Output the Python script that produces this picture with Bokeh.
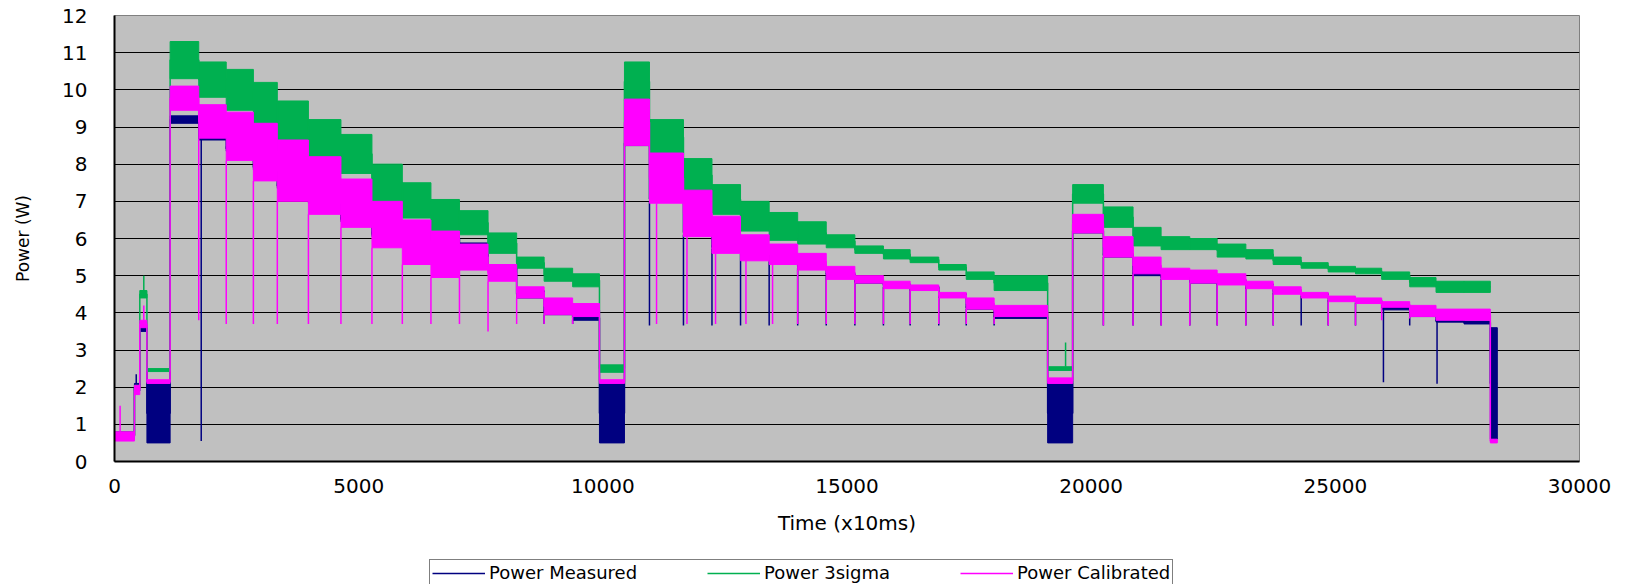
import math
from bokeh.plotting import figure
from bokeh.layouts import column
from bokeh.models import Range1d, FixedTicker, Legend, LegendItem, ColumnDataSource
from bokeh.embed import file_html
from bokeh.resources import INLINE

# ---- data (time in x10ms, power in W) ----
# step boundaries shared by the three series
times = [0, 408, 518, 664, 1139, 1725, 2288, 2844, 3334, 3971, 4637, 5272, 5894,
         6480, 7064, 7649, 8235, 8798, 9382, 9931, 10443, 10955, 11651, 12235,
         12820, 13406, 13990, 14575, 15161, 15746, 16293, 16879, 17442, 18013,
         19109, 19621, 20250, 20858, 21432, 22020, 22580, 23168, 23727, 24301,
         24854, 25413, 25949, 26523, 27062, 27635, 28174, 28317]

# Power Measured: min / max of the trace within each step
measured_lo = [0.6, 1.9, 3.5, 0.5, 9.1, 8.65, 8.35, 7.85, 7.35, 6.95, 6.45, 6.05, 6.25,
               5.95, 5.75, 5.15, 4.4, 3.95, 3.8, 0.5, 8.5, 7.0, 6.1, 5.72, 5.58,
               5.38, 5.2, 5.0, 4.8, 4.7, 4.64, 4.44, 4.1, 3.85, 0.5, 6.15, 5.5,
               5.0, 4.92, 4.8, 4.82, 4.7, 4.55, 4.45, 4.35, 4.28, 4.08, 3.9, 3.75,
               3.7, 0.6]
measured_hi = [0.8, 2.1, 3.7, 2.1, 9.3, 8.78, 8.48, 7.98, 7.48, 7.08, 6.58, 6.18, 6.38,
               6.08, 5.88, 5.28, 4.6, 4.08, 3.93, 2.1, 8.62, 7.12, 6.22, 5.82, 5.68,
               5.48, 5.3, 5.08, 4.88, 4.78, 4.72, 4.52, 4.18, 3.93, 2.1, 6.27, 5.6,
               5.08, 5.0, 4.88, 4.9, 4.78, 4.62, 4.52, 4.42, 4.35, 4.15, 3.98, 3.83,
               3.78, 3.6]
# Power 3sigma
sigma_lo = [0.6, 1.9, 4.4, 2.42, 10.3, 9.8, 9.45, 9.1, 8.35, 8.1, 7.75, 7.0, 6.55,
            6.2, 6.1, 5.6, 5.2, 4.85, 4.7, 2.4, 9.7, 8.25, 7.25, 6.65, 6.2, 5.95,
            5.85, 5.75, 5.6, 5.45, 5.35, 5.15, 4.9, 4.6, 2.45, 6.95, 6.3, 5.8, 5.7,
            5.7, 5.5, 5.45, 5.3, 5.2, 5.1, 5.05, 4.9, 4.7, 4.55, 4.55, float("nan")]
sigma_hi = [0.8, 2.05, 4.6, 2.5, 11.3, 10.75, 10.55, 10.2, 9.7, 9.2, 8.8, 8.0, 7.5,
            7.05, 6.75, 6.15, 5.5, 5.2, 5.05, 2.6, 10.75, 9.2, 8.15, 7.45, 7.0, 6.7,
            6.45, 6.1, 5.8, 5.7, 5.5, 5.3, 5.1, 5.0, 2.55, 7.45, 6.85, 6.3, 6.05,
            6.0, 5.85, 5.7, 5.5, 5.35, 5.25, 5.2, 5.1, 4.95, 4.85, 4.85, float("nan")]
# Power Calibrated
calib_lo = [0.55, 1.8, 3.6, 2.1, 9.45, 8.7, 8.1, 7.55, 7.0, 6.65, 6.3, 5.75, 5.3,
            4.95, 5.15, 4.85, 4.4, 3.95, 3.9, 2.1, 8.5, 6.95, 6.05, 5.6, 5.4, 5.3,
            5.15, 4.9, 4.8, 4.65, 4.6, 4.4, 4.1, 3.9, 2.1, 6.15, 5.5, 5.05, 4.9,
            4.8, 4.75, 4.65, 4.5, 4.4, 4.3, 4.25, 4.15, 3.9, 3.8, 3.8, 0.5]
calib_hi = [0.8, 2.05, 3.8, 2.2, 10.1, 9.6, 9.4, 9.1, 8.65, 8.2, 7.6, 7.0, 6.5,
            6.2, 5.85, 5.3, 4.7, 4.4, 4.25, 2.2, 9.75, 8.3, 7.3, 6.6, 6.1, 5.85,
            5.6, 5.25, 5.0, 4.85, 4.75, 4.55, 4.4, 4.2, 2.25, 6.65, 6.05, 5.5, 5.2,
            5.15, 5.05, 4.85, 4.7, 4.55, 4.45, 4.4, 4.3, 4.2, 4.1, 4.1, 0.6]

# single-sample spikes and dips
measured_spike_t = [445, 1776, 8798, 9382, 10955, 11651, 12235, 12820, 13406, 13990,
                    14575, 15161, 15746, 16293, 16879, 17442, 18013, 20250, 20858,
                    21432, 22020, 22580, 23168, 23727, 24301, 24854, 25413, 25985,
                    26523, 27083]
measured_spike_v = [2.35, 0.55, 3.7, 3.7, 3.66, 3.66, 3.66, 3.66, 3.66, 3.66, 3.66,
                    3.66, 3.66, 3.66, 3.66, 3.66, 3.66, 3.66, 3.66, 3.66, 3.66,
                    3.66, 3.66, 3.66, 3.66, 3.66, 3.66, 2.13, 3.66, 2.09]
sigma_spike_t = [600, 19476]
sigma_spike_v = [5.0, 3.2]
calib_spike_t = [115, 600, 1725, 2288, 2844, 3334, 3971, 4637, 5272, 5894, 6480,
                 7064, 7649, 8235, 8798, 9382, 11100, 11723, 12308, 12931, 13476,
                 13990, 14575, 15161, 15746, 16293, 16879, 17442, 18013, 20250,
                 20858, 21432, 22020, 22580, 23168, 23727, 24854, 25413, 25949,
                 26523, 28230]
calib_spike_v = [1.5, 4.2, 3.8, 3.7, 3.7, 3.7, 3.7, 3.7, 3.7, 3.7, 3.7, 3.7, 3.5,
                 3.7, 3.7, 3.7, 3.7, 3.7, 3.7, 3.7, 3.7, 3.7, 3.7, 3.7, 3.7, 3.7,
                 3.7, 3.7, 3.7, 3.66, 3.66, 3.66, 3.66, 3.66, 3.66, 3.66, 3.66,
                 3.66, 3.8, 3.85, 0.5]

series_names = ["Power Measured", "Power 3sigma", "Power Calibrated"]
series_colors = ["#000080", "#00B050", "#FF00FF"]

x_ticks = [0, 5000, 10000, 15000, 20000, 25000, 30000]
y_ticks = list(range(0, 13))


def band_source(lo, hi):
    d = dict(left=[], right=[], bottom=[], top=[])
    for i in range(len(lo)):
        if math.isnan(lo[i]):
            continue
        d["left"].append(times[i])
        d["right"].append(times[i + 1])
        d["bottom"].append(lo[i])
        d["top"].append(hi[i])
    return ColumnDataSource(d)


def path_source(lo, hi):
    xs, ys = [], []
    for i in range(len(lo)):
        if math.isnan(lo[i]):
            xs.append(float("nan"))
            ys.append(float("nan"))
            continue
        mid = (lo[i] + hi[i]) / 2.0
        xs += [times[i], times[i + 1]]
        ys += [mid, mid]
    return ColumnDataSource(dict(x=xs, y=ys))


def spike_source(st, sv, lo, hi):
    d = dict(x0=[], y0=[], x1=[], y1=[])
    for t, v in zip(st, sv):
        i = max(k for k in range(len(lo)) if times[k] <= t)
        base = lo[i] if v < lo[i] else hi[i]
        d["x0"].append(t)
        d["x1"].append(t)
        d["y0"].append(base)
        d["y1"].append(v)
    return ColumnDataSource(d)


FONT = "DejaVu Sans"

p = figure(width=1629, height=559,
           x_range=Range1d(0, 30000), y_range=Range1d(0, 12),
           output_backend="svg", toolbar_location=None,
           min_border_left=114, min_border_right=50,
           min_border_top=15, min_border_bottom=98,
           background_fill_color="#C0C0C0", border_fill_color="white",
           outline_line_color="#808080", outline_line_width=1)

for ax in (p.xaxis[0], p.yaxis[0]):
    ax.major_tick_in = 0
    ax.major_tick_out = 0
    ax.minor_tick_in = 0
    ax.minor_tick_out = 0
    ax.axis_line_color = "#000000"
    ax.axis_line_width = 2
    ax.major_label_text_font = FONT
    ax.major_label_text_font_size = "20px"
    ax.major_label_text_color = "#000000"
    ax.axis_label_text_font = FONT
    ax.axis_label_text_font_style = "normal"
    ax.axis_label_text_color = "#000000"

p.xaxis.ticker = FixedTicker(ticks=x_ticks)
p.yaxis.ticker = FixedTicker(ticks=y_ticks)
p.xaxis.major_label_standoff = 17
p.yaxis.major_label_standoff = 27
p.xaxis.axis_label = "Time (x10ms)"
p.yaxis.axis_label = "Power (W)"
p.xaxis.axis_label_text_font_size = "20px"
p.yaxis.axis_label_text_font_size = "17px"
p.xaxis.axis_label_standoff = 15
p.yaxis.axis_label_standoff = 26

p.xgrid.visible = False
p.ygrid.ticker = FixedTicker(ticks=y_ticks)
p.ygrid.grid_line_color = "#000000"
p.ygrid.grid_line_width = 1

all_lo = [measured_lo, sigma_lo, calib_lo]
all_hi = [measured_hi, sigma_hi, calib_hi]
all_st = [measured_spike_t, sigma_spike_t, calib_spike_t]
all_sv = [measured_spike_v, sigma_spike_v, calib_spike_v]

path_sources = []
for name, col, lo, hi, st, sv in zip(series_names, series_colors, all_lo, all_hi, all_st, all_sv):
    p.quad(left="left", right="right", bottom="bottom", top="top",
           source=band_source(lo, hi), fill_color=col, line_color=col, line_width=1)
    src = path_source(lo, hi)
    path_sources.append(src)
    p.line("x", "y", source=src, line_color=col, line_width=1.5)
    p.segment("x0", "y0", "x1", "y1", source=spike_source(st, sv, lo, hi),
              line_color=col, line_width=1.5)

# legend strip below the chart (the reference cuts it at the window's bottom edge);
# its ranges hold none of the data, so only the legend shows
lg = figure(width=1629, height=25, x_range=Range1d(-2, -1), y_range=Range1d(-2, -1),
            output_backend="svg", toolbar_location=None,
            min_border_left=0, min_border_right=0, min_border_top=0, min_border_bottom=0,
            outline_line_color=None, background_fill_color="white")
lg.xaxis.visible = False
lg.yaxis.visible = False
lg.grid.visible = False
items = []
for name, col, src in zip(series_names, series_colors, path_sources):
    r = lg.line("x", "y", source=src, line_color=col, line_width=1.5)
    items.append(LegendItem(label=name, renderers=[r]))

legend = Legend(items=items, orientation="horizontal", location=(315, -2),
                label_text_font=FONT, label_text_font_size="18px",
                label_text_color="#000000",
                glyph_width=53, glyph_height=20, label_height=20,
                label_standoff=4, spacing=70, padding=2, margin=0,
                border_line_color="#000000", border_line_width=1,
                background_fill_color="white", background_fill_alpha=1.0)
lg.add_layout(legend, "center")

page = column(p, lg, spacing=0)
open("out.html", "w").write(file_html(page, INLINE))
